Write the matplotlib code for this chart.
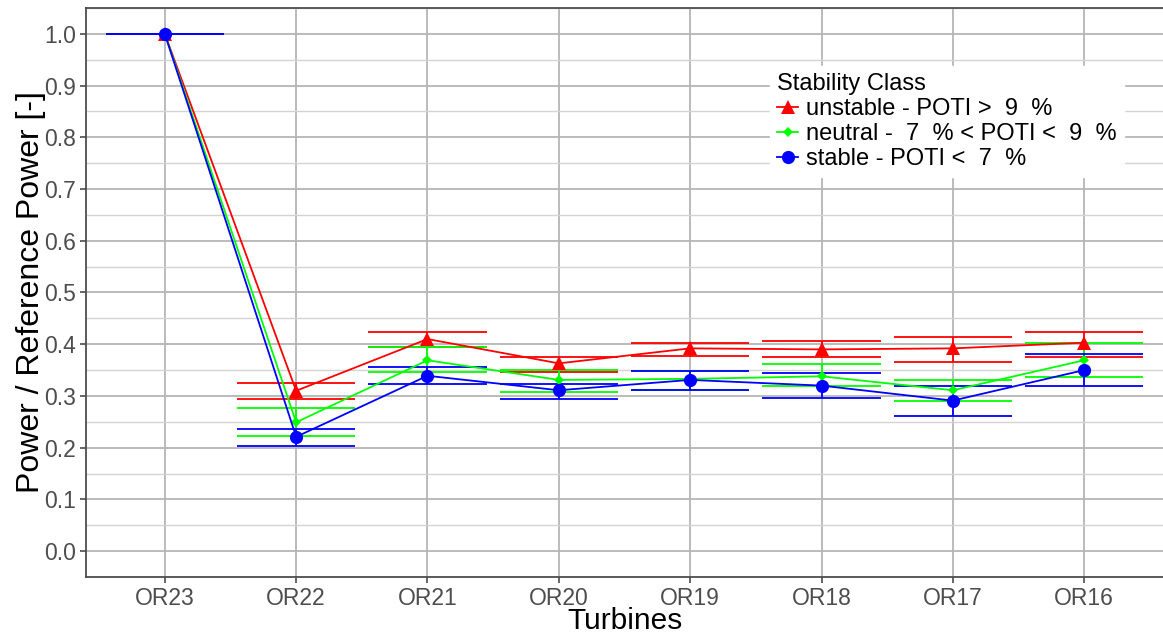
import numpy as np
import matplotlib
matplotlib.use("Agg")
import matplotlib.pyplot as plt
from matplotlib.ticker import MultipleLocator

plt.rcParams['font.family'] = ['Liberation Sans', 'DejaVu Sans']

# Turbines along the row, normalised by the reference turbine OR23
turbines = ["OR23", "OR22", "OR21", "OR20", "OR19", "OR18", "OR17", "OR16"]

unstable = [1.0, 0.31, 0.41, 0.363, 0.392, 0.39, 0.392, 0.403]
unstable_lo = [1.0, 0.294, 0.395, 0.347, 0.377, 0.375, 0.366, 0.376]
unstable_hi = [1.0, 0.326, 0.424, 0.375, 0.403, 0.406, 0.414, 0.424]

neutral = [1.0, 0.249, 0.369, 0.331, 0.333, 0.338, 0.311, 0.369]
neutral_lo = [1.0, 0.222, 0.346, 0.308, 0.312, 0.319, 0.290, 0.337]
neutral_hi = [1.0, 0.277, 0.394, 0.351, 0.349, 0.361, 0.330, 0.403]

stable = [1.0, 0.221, 0.339, 0.311, 0.331, 0.320, 0.291, 0.350]
stable_lo = [1.0, 0.203, 0.323, 0.295, 0.311, 0.297, 0.261, 0.319]
stable_hi = [1.0, 0.237, 0.356, 0.324, 0.348, 0.344, 0.319, 0.382]

series = [
    ("unstable - POTI >  9  %", unstable, unstable_lo, unstable_hi, "#FF0000", "^", 10),
    ("neutral -  7  % < POTI <  9  %", neutral, neutral_lo, neutral_hi, "#00FF00", "D", 5),
    ("stable - POTI <  7  %", stable, stable_lo, stable_hi, "#0000FF", "o", 9.5),
]

fig = plt.figure(figsize=(11.63, 6.36), dpi=100, facecolor="white")
ax = fig.add_axes([86 / 1163, 59 / 636, 1077 / 1163, 569 / 636])

x = np.arange(1, len(turbines) + 1)
half = 0.45  # error bar cap half-width

for label, vals, lo, hi, col, mk, ms in series:
    ax.vlines(x, lo, hi, color=col, lw=1.3, zorder=3)
    ax.hlines(lo, x - half, x + half, color=col, lw=1.3, zorder=3)
    ax.hlines(hi, x - half, x + half, color=col, lw=1.3, zorder=3)
    ax.plot(x, vals, color=col, lw=1.3, marker=mk, markersize=ms,
            markeredgewidth=0, label=label, zorder=4)

ax.set_xlim(0.4, 8.6)
ax.set_ylim(-0.05, 1.05)
ax.set_xticks(x)
ax.set_xticklabels(turbines)
ax.yaxis.set_major_locator(MultipleLocator(0.1))
ax.yaxis.set_minor_locator(MultipleLocator(0.05))
ax.yaxis.set_major_formatter(matplotlib.ticker.FormatStrFormatter("%.1f"))

ax.grid(which="major", color="#B5B5B5", lw=1.3)
ax.grid(which="minor", axis="y", color="#D3D3D3", lw=1.0)
ax.set_axisbelow(True)

for side in ["left", "bottom", "top"]:
    ax.spines[side].set_color("#4D4D4D")
    ax.spines[side].set_linewidth(1.3)
ax.spines["right"].set_visible(False)

ax.tick_params(axis="both", which="major", colors="#4D4D4D", labelsize=16.5,
               length=4, width=1.2, pad=3)
ax.tick_params(axis="y", which="minor", length=0)
for lab in ax.get_xticklabels() + ax.get_yticklabels():
    lab.set_color("#4D4D4D")

ax.set_xlabel("Turbines", fontsize=21.5, labelpad=-2)
ax.set_ylabel("Power / Reference Power [-]", fontsize=23, labelpad=-1)

leg = ax.legend(title="Stability Class", loc="upper left",
                bbox_to_anchor=(0.635, 0.898), fontsize=17,
                title_fontsize=17, frameon=True, fancybox=False,
                handlelength=0.9, handletextpad=0.35, labelspacing=0.13,
                borderpad=0.3, borderaxespad=0)
leg.get_frame().set_facecolor("white")
leg.get_frame().set_edgecolor("white")
leg.get_frame().set_alpha(1.0)
leg._legend_box.align = "left"

fig.savefig("out.png", dpi=100, facecolor="white")
